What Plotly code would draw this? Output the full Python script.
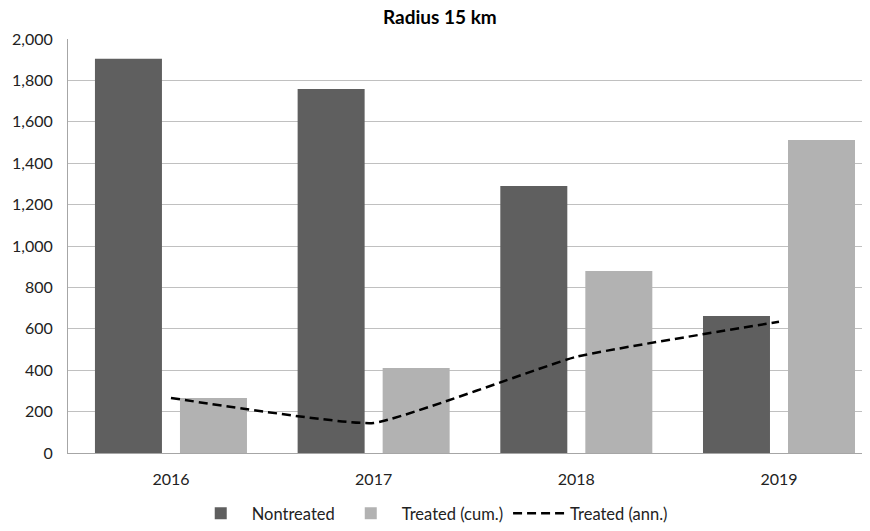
import plotly.graph_objects as go

years = ["2016", "2017", "2018", "2019"]
nontreated = [1905, 1758, 1290, 662]
treated_cum = [266, 411, 879, 1512]
treated_ann = [266, 145, 465, 634]
y_ticks = [0, 200, 400, 600, 800, 1000, 1200, 1400, 1600, 1800, 2000]

FONT = "Lato"

fig = go.Figure()
fig.add_trace(go.Bar(x=years, y=nontreated, name="Nontreated",
                     marker=dict(color="#5f5f5f", line=dict(width=0))))
fig.add_trace(go.Bar(x=years, y=treated_cum, name="Treated (cum.)",
                     marker=dict(color="#b2b2b2", line=dict(width=0))))
fig.add_trace(go.Scatter(x=years, y=treated_ann, name="Treated (ann.)", mode="lines",
                         line=dict(color="black", width=2.5, dash="9px,5px", shape="spline", smoothing=0.35)))

fig.update_layout(
    width=862, height=523,
    margin=dict(l=60, r=0, t=31, b=78),
    paper_bgcolor="white", plot_bgcolor="white",
    font=dict(family=FONT, size=16, color="#222222"),
    title=dict(text="<b>Radius 15 km</b>", xref="container", x=0.501, xanchor="center",
               yref="container", y=1, yanchor="top", pad=dict(t=3),
               font=dict(family=FONT, size=19, color="black")),
    barmode="group", bargap=0.161, bargroupgap=0.212,
    legend=dict(orientation="h", xref="container", x=0.491, xanchor="center",
                yref="container", y=0.0, yanchor="bottom",
                font=dict(family=FONT, size=16.5), itemwidth=52, traceorder="normal"),
    showlegend=True,
)
fig.update_yaxes(range=[0, 2000], tickvals=y_ticks, tickformat=",d",
                 showgrid=True, gridcolor="#c0c0c0", gridwidth=1,
                 showline=True, linecolor="#a6a6a6", linewidth=1,
                 ticks="", ticklabelstandoff=11, zeroline=False)
fig.update_xaxes(range=[-0.508, 3.449], showgrid=False, showline=True,
                 linecolor="#a6a6a6", linewidth=1, ticks="", ticklabelstandoff=12)

fig.write_html("out.html")
